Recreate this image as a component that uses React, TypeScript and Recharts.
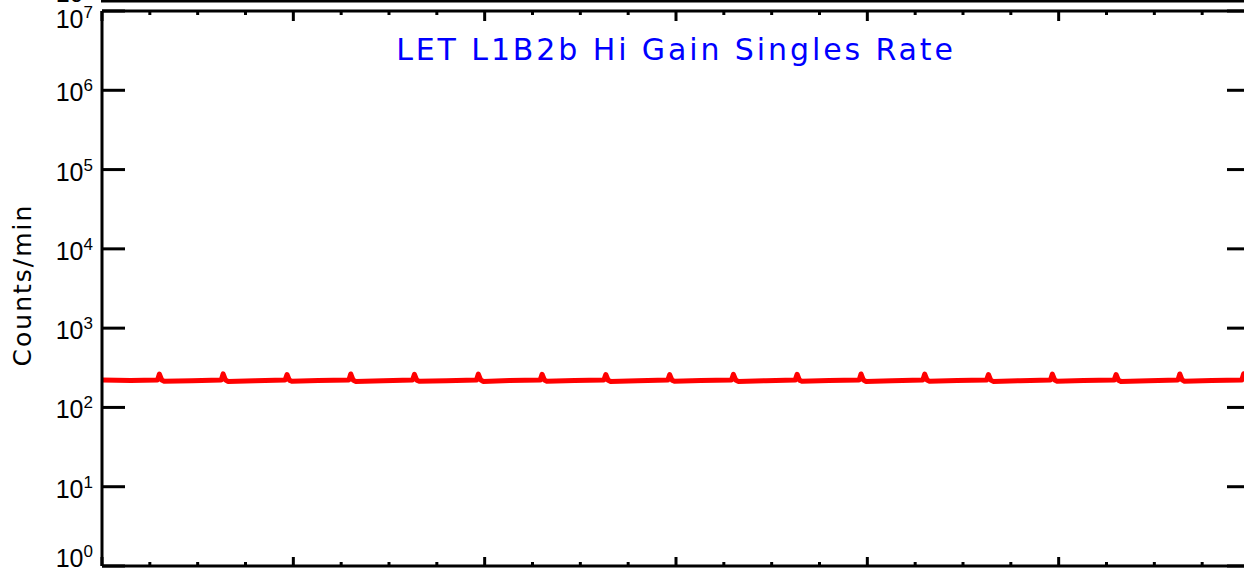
import { LineChart, Line, XAxis, YAxis } from 'recharts';

// time in panel units (one major x tick per unit), counts/min
const times = [
  0, 0.15, 0.29,
  0.3, 0.312, 0.325, 0.47, 0.623,
  0.633, 0.645, 0.658, 0.8, 0.957,
  0.967, 0.979, 0.992, 1.13, 1.29,
  1.3, 1.312, 1.325, 1.47, 1.623,
  1.633, 1.645, 1.658, 1.8, 1.957,
  1.967, 1.979, 1.992, 2.13, 2.29,
  2.3, 2.312, 2.325, 2.47, 2.623,
  2.633, 2.645, 2.658, 2.8, 2.957,
  2.967, 2.979, 2.992, 3.13, 3.29,
  3.3, 3.312, 3.325, 3.47, 3.623,
  3.633, 3.645, 3.658, 3.8, 3.957,
  3.967, 3.979, 3.992, 4.13, 4.29,
  4.3, 4.312, 4.325, 4.47, 4.623,
  4.633, 4.645, 4.658, 4.8, 4.957,
  4.967, 4.979, 4.992, 5.13, 5.29,
  5.3, 5.312, 5.325, 5.47, 5.623,
  5.633, 5.645, 5.658, 5.8, 5.957,
  5.967, 5.979, 5.992, 6.0,
];

const rates = [
  221, 219, 222,
  263, 222, 214, 217, 221,
  265, 223, 213, 217, 222,
  260, 221, 214, 218, 221,
  264, 222, 213, 217, 222,
  261, 221, 214, 217, 221,
  263, 223, 213, 218, 221,
  262, 222, 214, 218, 222,
  260, 220, 213, 217, 221,
  259, 221, 214, 218, 222,
  261, 222, 213, 217, 221,
  262, 221, 214, 218, 221,
  264, 223, 213, 217, 222,
  263, 222, 214, 218, 221,
  260, 221, 213, 217, 222,
  263, 222, 214, 218, 221,
  260, 220, 213, 217, 221,
  264, 223, 214, 218, 222,
  266, 224, 215, 215,
];

const decadeTicks = [1, 10, 100, 1000, 10000, 100000, 1000000, 10000000];

const timeTicks = [
  0, 0.25, 0.5, 0.75, 1, 1.25, 1.5, 1.75, 2, 2.25, 2.5, 2.75, 3,
  3.25, 3.5, 3.75, 4, 4.25, 4.5, 4.75, 5, 5.25, 5.5, 5.75, 6,
];

const chartData = times.map((t, i) => ({ t, rate: rates[i] }));

const ink = '#000';

function LeftTick({ x, y, payload }: any) {
  const exp = Math.round(Math.log10(payload.value));
  let dy = 11;
  if (exp === 7) dy = 17;
  if (exp === 0) dy = 1;
  return (
    <g>
      <line x1={x} x2={x + 23} y1={y} y2={y} stroke={ink} strokeWidth={3} />
      <text
        x={x - 9}
        y={y + dy}
        textAnchor="end"
        fontFamily="Liberation Sans, Arial, sans-serif"
        fontSize={25}
        fill={ink}
      >
        10<tspan dy={-10} fontSize={17}>{exp}</tspan>
      </text>
    </g>
  );
}

function RightTick({ x, y }: any) {
  return <line x1={x - 23} x2={x} y1={y} y2={y} stroke={ink} strokeWidth={3} />;
}

function BottomTick({ x, y, payload }: any) {
  const major = Number.isInteger(payload.value);
  return <line x1={x} x2={x} y1={y} y2={y - (major ? 9 : 4)} stroke={ink} strokeWidth={3} />;
}

function TopTick({ x, y, payload }: any) {
  const major = Number.isInteger(payload.value);
  return <line x1={x} x2={x} y1={y} y2={y + (major ? 10 : 4)} stroke={ink} strokeWidth={3} />;
}

const axisStroke = { stroke: ink, strokeWidth: 3 };

export default function App() {
  return (
    <div
      style={{
        position: 'fixed',
        left: 0,
        top: 0,
        width: 1244,
        height: 571,
        overflow: 'hidden',
        background: '#fff',
      }}
    >
      <LineChart
        width={1260}
        height={571}
        data={chartData}
        margin={{ top: 10, right: 9, bottom: 4, left: 101 }}
      >
        <XAxis
          xAxisId="bottom"
          dataKey="t"
          type="number"
          domain={[0, 6]}
          ticks={timeTicks}
          height={1}
          tickSize={0}
          tickMargin={0}
          tickLine={false}
          axisLine={axisStroke}
          tick={<BottomTick />}
          interval={0}
        />
        <XAxis
          xAxisId="top"
          orientation="top"
          dataKey="t"
          type="number"
          domain={[0, 6]}
          ticks={timeTicks}
          height={1}
          tickSize={0}
          tickMargin={0}
          tickLine={false}
          axisLine={axisStroke}
          tick={<TopTick />}
          interval={0}
        />
        <YAxis
          yAxisId="left"
          scale="log"
          type="number"
          domain={[1, 10000000]}
          allowDataOverflow
          ticks={decadeTicks}
          width={1}
          tickSize={0}
          tickMargin={0}
          tickLine={false}
          axisLine={axisStroke}
          tick={<LeftTick />}
          interval={0}
        />
        <YAxis
          yAxisId="right"
          orientation="right"
          scale="log"
          type="number"
          domain={[1, 10000000]}
          allowDataOverflow
          ticks={decadeTicks}
          width={1}
          tickSize={0}
          tickMargin={0}
          tickLine={false}
          axisLine={axisStroke}
          tick={<RightTick />}
          interval={0}
        />
        <Line
          xAxisId="bottom"
          yAxisId="left"
          dataKey="rate"
          type="linear"
          stroke="#ff0000"
          strokeWidth={5}
          strokeLinejoin="round"
          dot={false}
          isAnimationActive={false}
        />
      </LineChart>
      <svg
        width={1244}
        height={571}
        style={{ position: 'absolute', left: 0, top: 0, pointerEvents: 'none' }}
      >
        <line x1={101} x2={1244} y1={1} y2={1} stroke={ink} strokeWidth={3} />
        <text
          x={93}
          y={2}
          textAnchor="end"
          fontFamily="Liberation Sans, Arial, sans-serif"
          fontSize={25}
          fill={ink}
        >
          10<tspan dy={-10} fontSize={17}>0</tspan>
        </text>
        <text
          x={676}
          y={60}
          textAnchor="middle"
          fontFamily="DejaVu Sans, sans-serif"
          fontSize={30}
          letterSpacing={2.9}
          fill="#0000ff"
        >
          LET L1B2b Hi Gain Singles Rate
        </text>
        <text
          transform="translate(31,285) rotate(-90)"
          textAnchor="middle"
          fontFamily="DejaVu Sans, sans-serif"
          fontSize={25}
          letterSpacing={2}
          fill={ink}
        >
          Counts/min
        </text>
      </svg>
    </div>
  );
}
